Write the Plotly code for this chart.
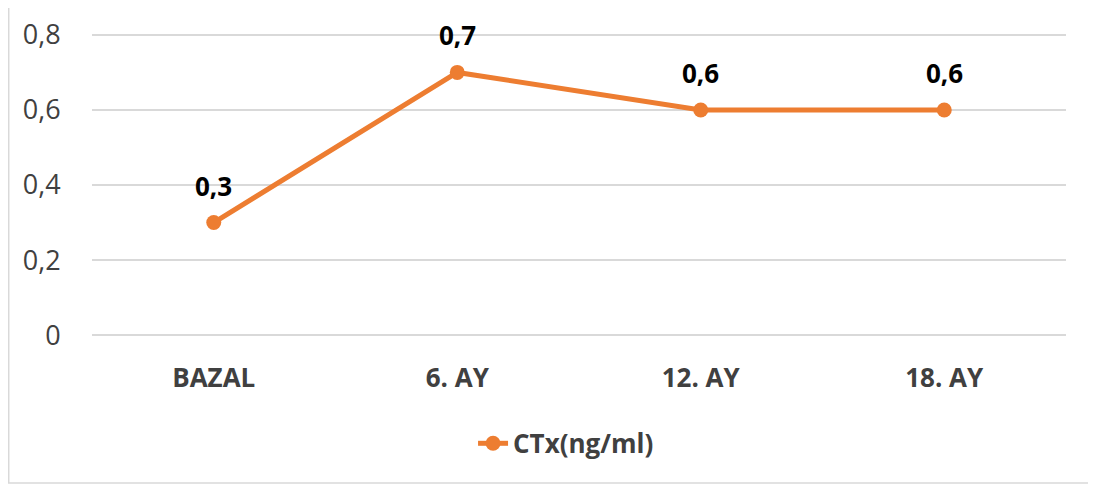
import plotly.graph_objects as go

categories = ["BAZAL", "6. AY", "12. AY", "18. AY"]
ctx_values = [0.3, 0.7, 0.6, 0.6]
series_name = "CTx(ng/ml)"
y_ticks = [0, 0.2, 0.4, 0.6, 0.8]

ORANGE = "#ED7D31"
FONT = "Open Sans"

fig = go.Figure()
fig.add_trace(go.Scatter(
    x=categories, y=ctx_values, name=f"<b>{series_name}</b>",
    mode="lines+markers",
    line=dict(color=ORANGE, width=5),
    marker=dict(color=ORANGE, size=15),
))

for c, v in zip(categories, ctx_values):
    fig.add_annotation(
        x=c, y=v, text=f"<b>{str(v).replace('.', ',')}</b>",
        showarrow=False, yshift=37,
        font=dict(family=FONT, size=26, color="#000000"),
    )

# outer chart border (kept inside the figure area)
fig.add_shape(type="rect", xref="paper", yref="paper",
              x0=-0.0855, x1=1.0257, y0=-0.48, y1=1.0855,
              line=dict(color="#D9D9D9", width=1.5), fillcolor="rgba(0,0,0,0)",
              layer="below")

fig.update_layout(
    width=1096, height=485,
    margin=dict(l=84, r=38, t=25, b=156),
    paper_bgcolor="white", plot_bgcolor="white",
    separators=",.",
    showlegend=True,
    legend=dict(orientation="h", x=0.4867, y=-0.35, xanchor="center", yanchor="middle",
                font=dict(family=FONT, size=26, color="#404040"),
                bgcolor="rgba(0,0,0,0)"),
    font=dict(family=FONT),
)

fig.update_yaxes(
    range=[-0.005, 0.805], tickvals=y_ticks, automargin=False,
    showgrid=True, gridcolor="#D9D9D9", gridwidth=1.5,
    zeroline=False, showline=False,
    ticks="outside", ticklen=25, tickcolor="rgba(0,0,0,0)",
    tickfont=dict(family=FONT, size=27, color="#404040"),
)
fig.update_xaxes(
    range=[-0.5, 3.5], automargin=False,
    showgrid=False, zeroline=False, showline=False,
    ticks="outside", ticklen=18, tickcolor="rgba(0,0,0,0)",
    tickfont=dict(family=FONT, size=26, color="#404040"),
    tickvals=categories, ticktext=[f"<b>{c}</b>" for c in categories],
)

fig.write_html("out.html")
